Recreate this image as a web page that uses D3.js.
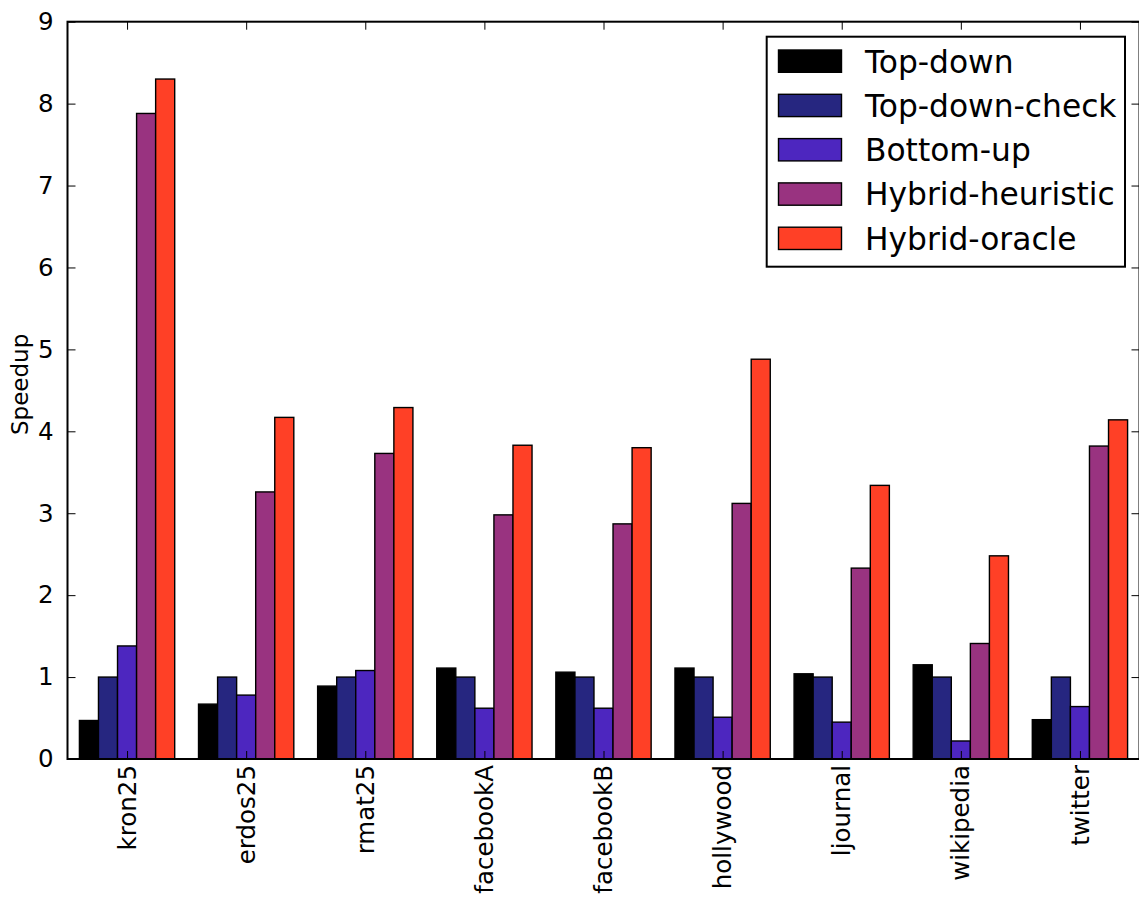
<!DOCTYPE html>
<html>
<head>
<meta charset="utf-8">
<script src="https://cdn.jsdelivr.net/npm/d3@7"></script>
<style>
  html, body { margin: 0; padding: 0; background: #fff; }
  svg { display: block; font-family: "DejaVu Sans", sans-serif; }
</style>
</head>
<body>
<svg id="chart" width="1139" height="898"></svg>
<script>
const categories = ["kron25", "erdos25", "rmat25", "facebookA", "facebookB", "hollywood", "ljournal", "wikipedia", "twitter"];
const seriesNames = ["Top-down", "Top-down-check", "Bottom-up", "Hybrid-heuristic", "Hybrid-oracle"];
const topDown        = [0.47, 0.67, 0.89, 1.11, 1.06, 1.11, 1.04, 1.15, 0.48];
const topDownCheck   = [1.00, 1.00, 1.00, 1.00, 1.00, 1.00, 1.00, 1.00, 1.00];
const bottomUp       = [1.38, 0.78, 1.08, 0.62, 0.62, 0.51, 0.45, 0.22, 0.64];
const hybridHeur     = [7.88, 3.26, 3.73, 2.98, 2.87, 3.12, 2.33, 1.41, 3.82];
const hybridOracle   = [8.30, 4.17, 4.29, 3.83, 3.80, 4.88, 3.34, 2.48, 4.14];
const seriesColors   = ["#000000", "#262680", "#4d26bf", "#993380", "#ff4026"];
const yTicks = [0, 1, 2, 3, 4, 5, 6, 7, 8, 9];

const seriesValues = [topDown, topDownCheck, bottomUp, hybridHeur, hybridOracle];

const L = 67.5, R = 1139.5, T = 21.7, B = 759;
const svg = d3.select("#chart");

const x0 = d3.scaleBand().domain(categories).range([L, R]).paddingInner(0.2).paddingOuter(0.1);
const x1 = d3.scaleBand().domain(seriesNames).range([0, x0.bandwidth()]);
const y = d3.scaleLinear().domain([0, 9]).range([B, T]);
const color = d3.scaleOrdinal().domain(seriesNames).range(seriesColors);

// bars
const groups = svg.append("g").selectAll("g")
  .data(categories).join("g")
  .attr("transform", d => `translate(${x0(d)},0)`);

groups.selectAll("rect")
  .data((c, i) => seriesNames.map((s, k) => ({ s, v: seriesValues[k][i] })))
  .join("rect")
  .attr("x", d => x1(d.s))
  .attr("y", d => y(d.v))
  .attr("width", x1.bandwidth())
  .attr("height", d => y(0) - y(d.v))
  .attr("fill", d => color(d.s))
  .attr("stroke", "#000")
  .attr("stroke-width", 1.4);

// axes with inward ticks
const tickLen = 8;
const xCenter = c => x0(c) + x0.bandwidth() / 2;
const xAxisScale = d3.scalePoint().domain(categories).range([xCenter(categories[0]), xCenter(categories[categories.length - 1])]);

// bottom axis
const gb = svg.append("g").attr("transform", `translate(0,${B})`)
  .call(d3.axisBottom(xAxisScale).tickSizeInner(-tickLen).tickSizeOuter(0).tickFormat(""));
gb.select(".domain").remove();
gb.selectAll("line").attr("stroke", "#000").attr("stroke-width", 1);

// top axis
const gt = svg.append("g").attr("transform", `translate(0,${T})`)
  .call(d3.axisTop(xAxisScale).tickSizeInner(-tickLen).tickSizeOuter(0).tickFormat(""));
gt.select(".domain").remove();
gt.selectAll("line").attr("stroke", "#000").attr("stroke-width", 1);

// left axis
const gl = svg.append("g").attr("transform", `translate(${L},0)`)
  .call(d3.axisLeft(y).tickValues(yTicks).tickSizeInner(-tickLen).tickSizeOuter(0).tickPadding(14).tickFormat(d3.format("d")));
gl.select(".domain").remove();
gl.selectAll("line").attr("stroke", "#000").attr("stroke-width", 1);
gl.selectAll("text").attr("font-size", 24.5).attr("fill", "#000").attr("font-family", "DejaVu Sans");

// right axis
const gr = svg.append("g").attr("transform", `translate(${R},0)`)
  .call(d3.axisRight(y).tickValues(yTicks).tickSizeInner(-tickLen).tickSizeOuter(0).tickFormat(""));
gr.select(".domain").remove();
gr.selectAll("line").attr("stroke", "#000").attr("stroke-width", 1);

// frame
svg.append("rect")
  .attr("x", L).attr("y", T).attr("width", R - L).attr("height", B - T)
  .attr("fill", "none").attr("stroke", "#000").attr("stroke-width", 2);

// x tick labels rotated
svg.append("g").selectAll("text")
  .data(categories).join("text")
  .attr("transform", d => `translate(${xCenter(d)},${B + 6}) rotate(-90)`)
  .attr("text-anchor", "end")
  .attr("dy", "0.35em")
  .attr("font-size", 24.5)
  .attr("fill", "#000")
  .text(d => d);

// y label
svg.append("text")
  .attr("transform", `translate(28,${(T + B) / 2 - 6}) rotate(-90)`)
  .attr("text-anchor", "middle")
  .attr("font-size", 23)
  .attr("fill", "#000")
  .text("Speedup");

// legend
const lg = svg.append("g");
lg.append("rect")
  .attr("x", 766.7).attr("y", 36.7).attr("width", 358.3).attr("height", 230)
  .attr("fill", "#fff").attr("stroke", "#000").attr("stroke-width", 2);
const rowH = 44.3;
const items = lg.selectAll("g.item").data(seriesNames).join("g")
  .attr("class", "item")
  .attr("transform", (d, i) => `translate(0,${i * rowH})`);
items.append("rect")
  .attr("x", 778.5).attr("y", 50).attr("width", 63).attr("height", 22.3)
  .attr("fill", d => color(d)).attr("stroke", "#000").attr("stroke-width", 1.4);
items.append("text")
  .attr("x", 865).attr("y", 72.5)
  .attr("font-size", 31.3)
  .attr("fill", "#000")
  .text(d => d);
</script>
</body>
</html>
